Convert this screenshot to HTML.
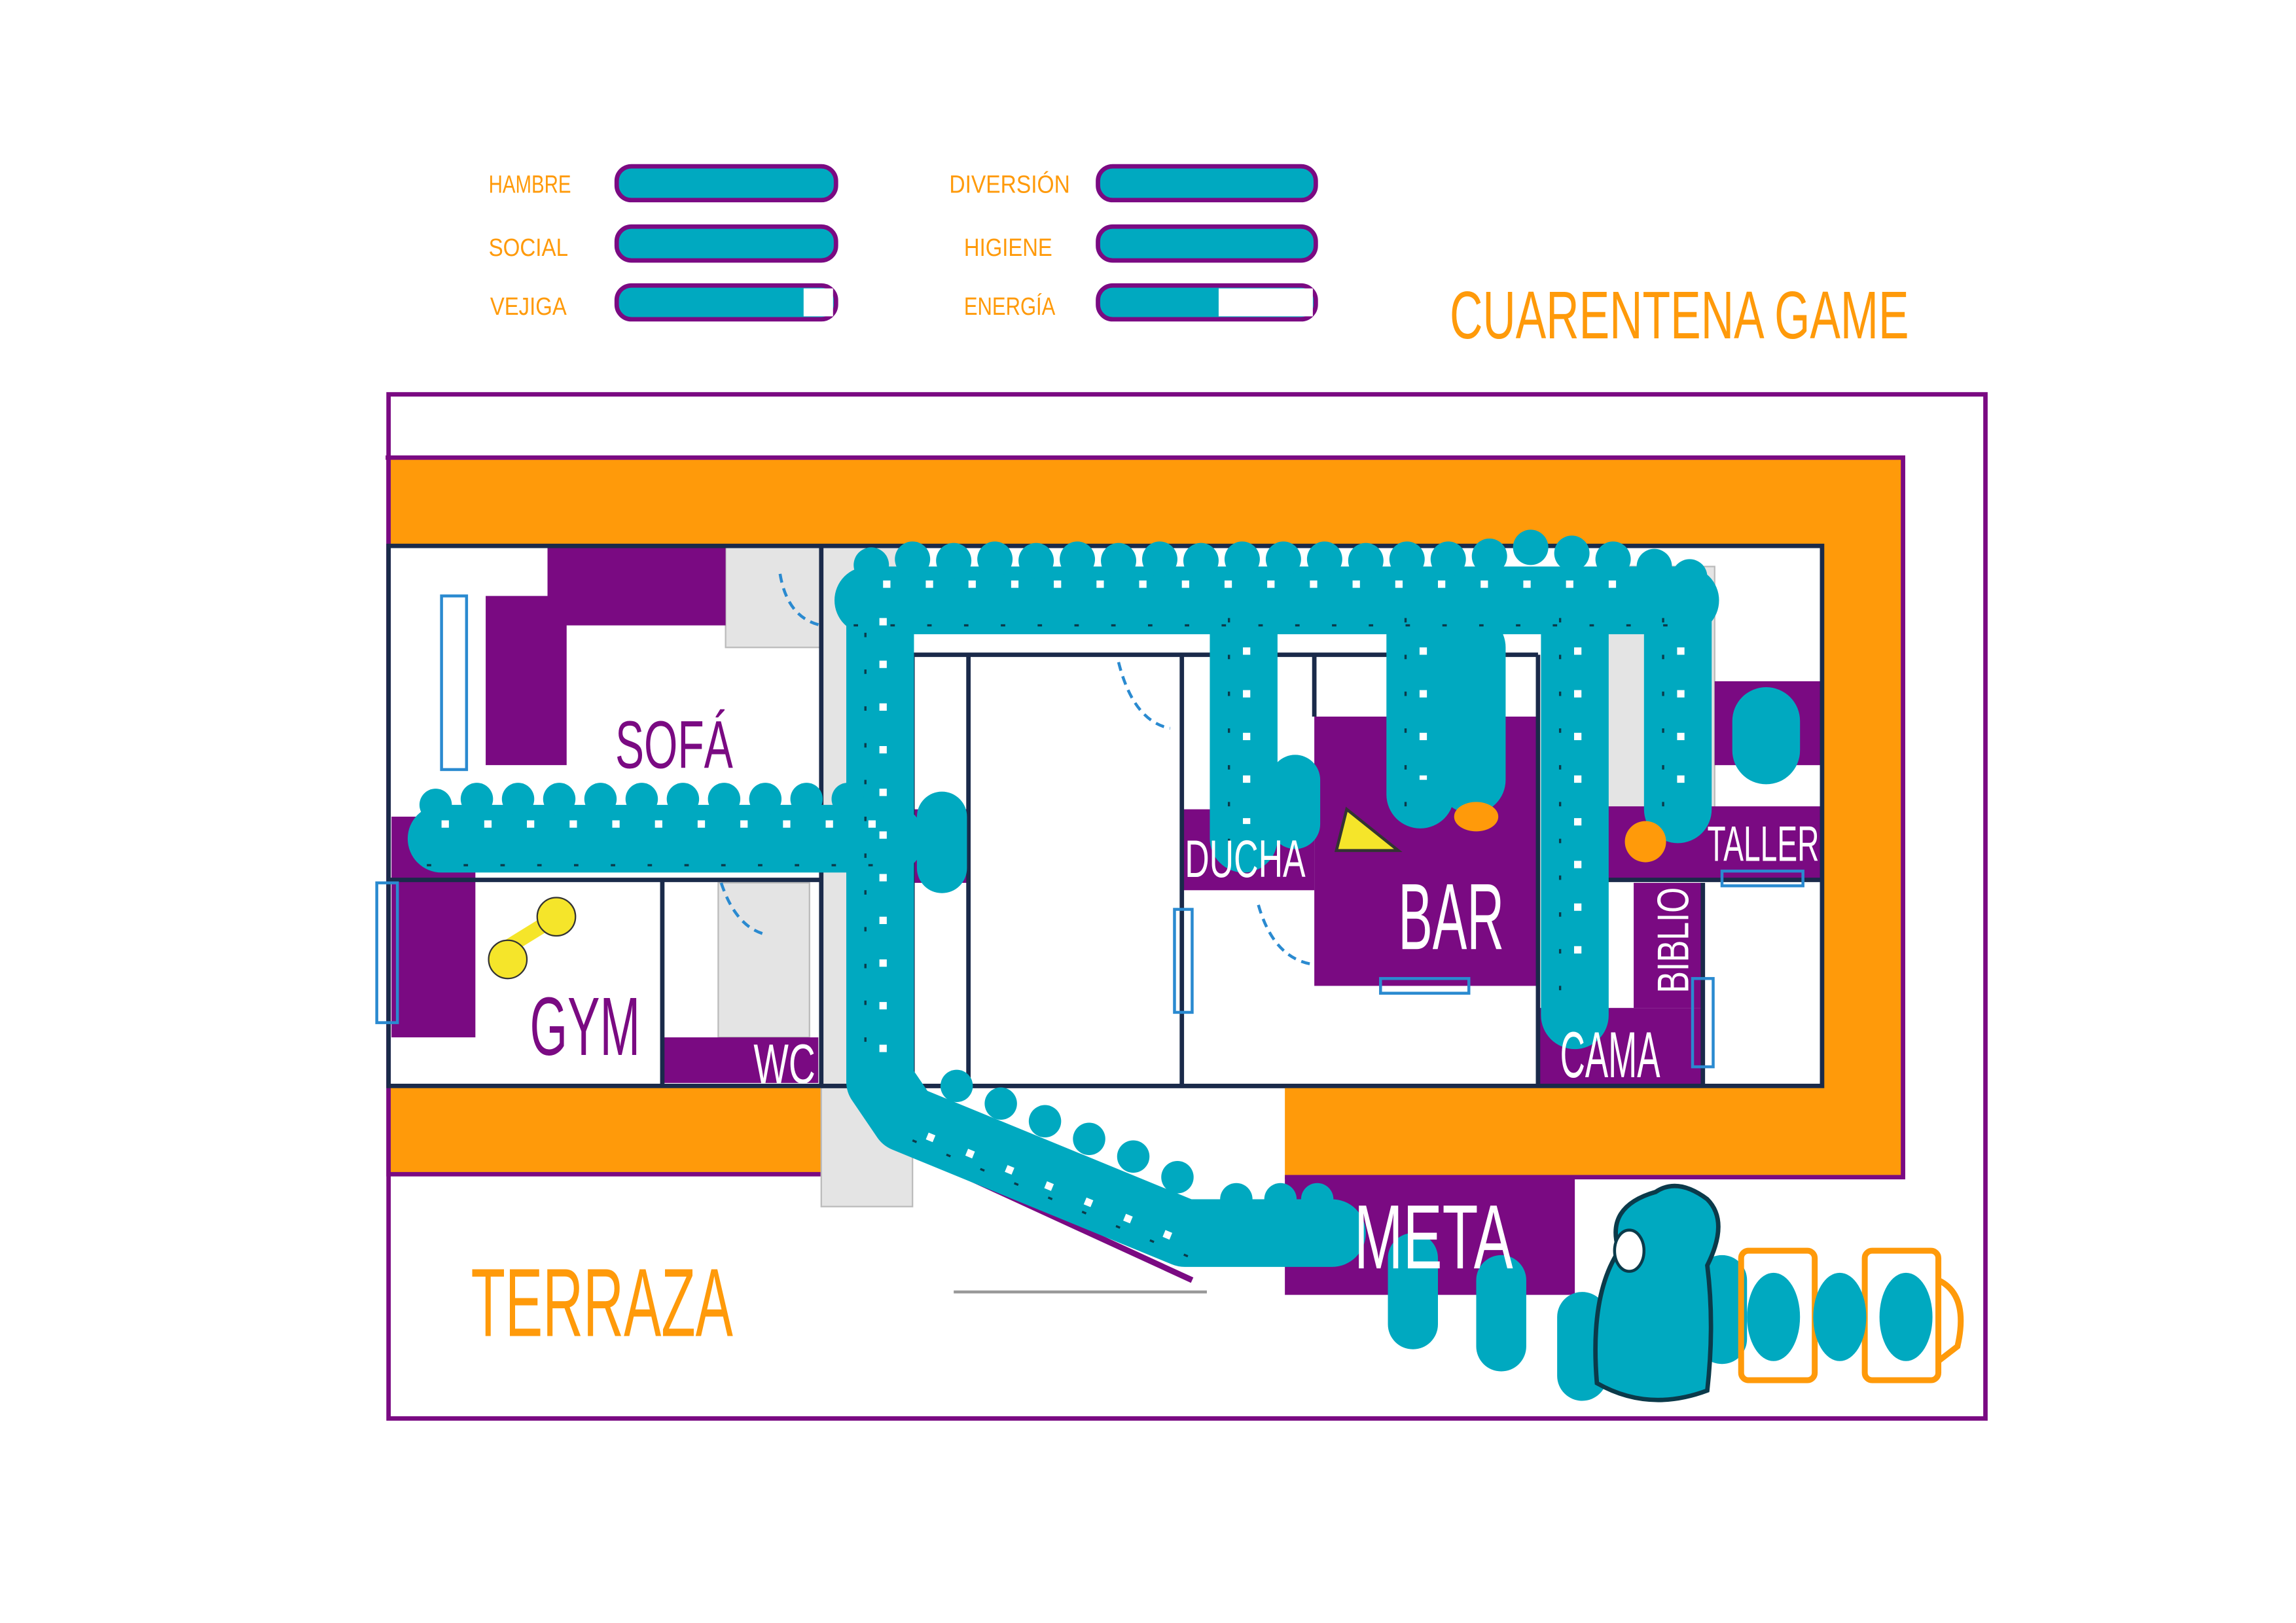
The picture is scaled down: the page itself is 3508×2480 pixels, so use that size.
<!DOCTYPE html>
<html><head><meta charset="utf-8"><style>
html,body{margin:0;padding:0;background:#fff}
svg{display:block}
text{font-family:"Liberation Sans",sans-serif}
</style></head><body>
<svg width="3508" height="2480" viewBox="0 0 1560 1103" preserveAspectRatio="none" xmlns="http://www.w3.org/2000/svg">
<rect width="1560" height="1103" fill="#fff"/>
<g fill="#ff9a0a" font-size="17">
<text x="332" y="131" textLength="56" lengthAdjust="spacingAndGlyphs">HAMBRE</text>
<text x="332" y="174" textLength="54" lengthAdjust="spacingAndGlyphs">SOCIAL</text>
<text x="333" y="214" textLength="52" lengthAdjust="spacingAndGlyphs">VEJIGA</text>
<text x="645" y="131" textLength="82" lengthAdjust="spacingAndGlyphs">DIVERSIÓN</text>
<text x="655" y="174" textLength="60" lengthAdjust="spacingAndGlyphs">HIGIENE</text>
<text x="655" y="214" textLength="62" lengthAdjust="spacingAndGlyphs">ENERGÍA</text>
</g>
<g stroke="#7a0a82" stroke-width="3" fill="#00a9c0">
<rect x="419" y="113" width="149" height="23" rx="10"/>
<rect x="419" y="154" width="149" height="23" rx="10"/>
<rect x="419" y="194" width="149" height="23" rx="10"/>
<rect x="746" y="113" width="148" height="23" rx="10"/>
<rect x="746" y="154" width="148" height="23" rx="10"/>
<rect x="746" y="194" width="148" height="23" rx="10"/>
</g>
<rect x="546" y="196" width="20" height="19" fill="#fff"/>
<rect x="828" y="196" width="64" height="19" fill="#fff"/>
<text x="985" y="230" font-size="46" fill="#ff9a0a" textLength="312" lengthAdjust="spacingAndGlyphs">CUARENTENA GAME</text>
<rect x="264" y="268" width="1085" height="696" fill="none" stroke="#7a0a82" stroke-width="3"/>
<g fill="#ff9a0a">
<rect x="264" y="311" width="1029" height="60"/>
<rect x="1238" y="311" width="55" height="489"/>
<rect x="264" y="738" width="294" height="60"/>
<rect x="873" y="738" width="420" height="62"/>
</g>
<path d="M262 311H1293V800H873M558 798H264V311" fill="none" stroke="#7a0a82" stroke-width="3"/>
<g fill="#e4e4e4" stroke="#bbb" stroke-width="1">
<rect x="558" y="372" width="62" height="448"/>
<rect x="493" y="372" width="65" height="68"/>
<rect x="488" y="600" width="62" height="105"/>
<rect x="1090" y="385" width="75" height="200"/>
</g>
<g fill="#7a0a82">
<path d="M372 372H493V425H385V520H330V405H372Z"/>
<rect x="266" y="555" width="57" height="150"/>
<rect x="450" y="705" width="106" height="31"/>
<rect x="803" y="550" width="90" height="55"/>
<rect x="893" y="487" width="152" height="183"/>
<rect x="1045" y="685" width="112" height="53"/>
<rect x="1110" y="600" width="47" height="85"/>
<rect x="1090" y="548" width="148" height="50"/>
<rect x="1165" y="463" width="73" height="57"/>
<rect x="873" y="800" width="197" height="80"/>
<rect x="620" y="550" width="38" height="50"/>
</g>
<g fill="none" stroke="#1a2a4a" stroke-width="3">
<rect x="264" y="371" width="974" height="367"/>
<path d="M558 372V738M620 445V738M658 445V738M620 445H1045M803 445V738M893 445V487M1045 445V738M1090 440V598M1157 600V738M450 598V738M264 598H558M1090 598H1238M558 738H873"/>
</g>
<g fill="none" stroke="#2a8ad0" stroke-width="2">
<rect x="300" y="405" width="17" height="118"/><rect x="256" y="600" width="14" height="95"/>
<rect x="798" y="618" width="12" height="70"/><rect x="938" y="665" width="60" height="10"/>
<rect x="1150" y="665" width="14" height="60"/><rect x="1170" y="592" width="55" height="10"/>
<path d="M760 450Q770 490 795 495M855 615Q865 650 890 655M490 600Q500 630 520 635M530 390Q535 420 558 425" stroke-dasharray="6 4"/>
</g>
<path d="M625 785L810 870" stroke="#7a0a82" stroke-width="4"/>
<path d="M648 878H820" stroke="#999" stroke-width="2"/>
<g fill="none" stroke="#00a9c0" stroke-linecap="round" stroke-linejoin="round">
<path stroke-width="46" d="M590 408H1145M598 408V735L615 760L805 838H905M300 570H605M845 408V570M965 408V540M1000 440V530M1070 408V690M1140 408V550M1200 490V510"/>
<path stroke-width="34" d="M880 530V560M640 555V590M960 855V900M1020 870V915M1075 895V935M1170 870V910"/>
</g>
<!-- heads -->
<g fill="#00a9c0">
<circle cx="592" cy="384" r="12"/><circle cx="620" cy="380" r="12"/><circle cx="648" cy="381" r="12"/><circle cx="676" cy="380" r="12"/><circle cx="704" cy="381" r="12"/><circle cx="732" cy="380" r="12"/><circle cx="760" cy="381" r="12"/><circle cx="788" cy="380" r="12"/><circle cx="816" cy="381" r="12"/><circle cx="844" cy="380" r="12"/><circle cx="872" cy="380" r="12"/><circle cx="900" cy="380" r="12"/><circle cx="928" cy="381" r="12"/><circle cx="956" cy="380" r="12"/><circle cx="984" cy="380" r="12"/><circle cx="1012" cy="378" r="12"/><circle cx="1040" cy="372" r="12"/><circle cx="1068" cy="376" r="12"/><circle cx="1096" cy="380" r="12"/><circle cx="1124" cy="385" r="12"/><circle cx="1148" cy="392" r="12"/>
<circle cx="296" cy="547" r="11"/><circle cx="324" cy="543" r="11"/><circle cx="352" cy="543" r="11"/><circle cx="380" cy="543" r="11"/><circle cx="408" cy="543" r="11"/><circle cx="436" cy="543" r="11"/><circle cx="464" cy="543" r="11"/><circle cx="492" cy="543" r="11"/><circle cx="520" cy="543" r="11"/><circle cx="548" cy="543" r="11"/><circle cx="576" cy="543" r="11"/>
<circle cx="650" cy="738" r="11"/><circle cx="680" cy="750" r="11"/><circle cx="710" cy="762" r="11"/><circle cx="740" cy="774" r="11"/><circle cx="770" cy="786" r="11"/><circle cx="800" cy="800" r="11"/><circle cx="840" cy="815" r="11"/><circle cx="870" cy="815" r="11"/><circle cx="895" cy="815" r="11"/>
<circle cx="1140" cy="820" r="13"/>
</g>
<g fill="none" stroke="#0b3a4a" stroke-width="1.5" stroke-dasharray="3 22">
<path d="M580 425H1150M588 430V730M290 588H600M835 420V580M955 420V550M1060 420V690M1130 420V550M620 775L810 855"/>
</g>
<path d="M600 397h520M300 560h300M600 420v300M847 440v120M967 440v90M1072 440v230M1142 440v100M630 772l170 70" stroke="#fff" stroke-width="5" stroke-dasharray="5 24" fill="none"/>
<path d="M1085 940Q1080 880 1100 850Q1090 820 1125 810Q1140 800 1160 815Q1175 830 1160 860Q1165 900 1160 945Q1120 960 1085 940Z" fill="#00a9c0" stroke="#0b3a4a" stroke-width="3"/>
<ellipse cx="1107" cy="850" rx="10" ry="14" fill="#fff" stroke="#0b3a4a" stroke-width="2"/>
<g fill="none" stroke="#ff9a0a" stroke-width="4">
<rect x="1183" y="850" width="50" height="88" rx="5"/><rect x="1267" y="850" width="50" height="88" rx="5"/>
<path d="M1317 870Q1338 880 1330 915L1317 925"/>
</g>
<g fill="#00a9c0"><ellipse cx="1205" cy="895" rx="18" ry="30"/><ellipse cx="1250" cy="895" rx="18" ry="30"/><ellipse cx="1295" cy="895" rx="18" ry="30"/></g>
<path d="M908 578L915 550L950 578Z" fill="#f5e52a" stroke="#333" stroke-width="2"/>
<ellipse cx="1003" cy="555" rx="15" ry="10" fill="#ff9a0a"/>
<circle cx="1118" cy="572" r="14" fill="#ff9a0a"/>
<path d="M338 648L380 622" stroke="#f5e52a" stroke-width="10"/>
<circle cx="345" cy="652" r="13" fill="#f5e52a" stroke="#333"/><circle cx="378" cy="623" r="13" fill="#f5e52a" stroke="#333"/>
<g>
<text x="418" y="522" font-size="46" fill="#7a0a82" textLength="80" lengthAdjust="spacingAndGlyphs">SOFÁ</text>
<text x="360" y="717" font-size="56" fill="#7a0a82" textLength="75" lengthAdjust="spacingAndGlyphs">GYM</text>
<text x="512" y="736" font-size="38" fill="#fff" textLength="42" lengthAdjust="spacingAndGlyphs">WC</text>
<text x="805" y="596" font-size="36" fill="#fff" textLength="82" lengthAdjust="spacingAndGlyphs">DUCHA</text>
<text x="950" y="645" font-size="64" fill="#fff" textLength="72" lengthAdjust="spacingAndGlyphs">BAR</text>
<text x="1160" y="585" font-size="34" fill="#fff" textLength="76" lengthAdjust="spacingAndGlyphs">TALLER</text>
<text x="1060" y="732" font-size="44" fill="#fff" textLength="68" lengthAdjust="spacingAndGlyphs">CAMA</text>
<text transform="translate(1147,675) rotate(-90)" font-size="30" fill="#fff" textLength="72" lengthAdjust="spacingAndGlyphs">BIBLIO</text>
<text x="920" y="862" font-size="62" fill="#fff" textLength="108" lengthAdjust="spacingAndGlyphs">META</text>
<text x="320" y="908" font-size="66" fill="#ff9a0a" textLength="178" lengthAdjust="spacingAndGlyphs">TERRAZA</text>
</g>
</svg>
</body></html>
